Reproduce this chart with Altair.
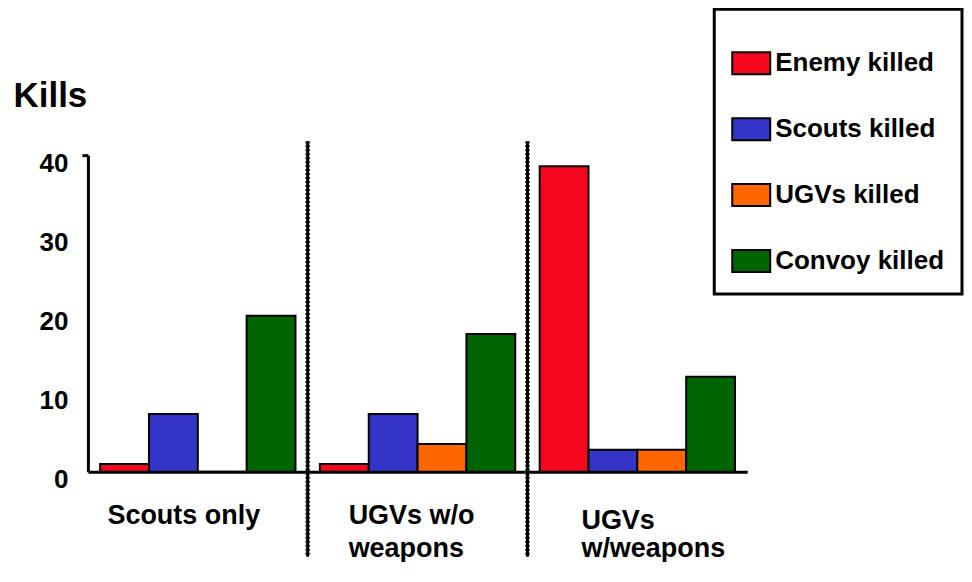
import altair as alt
import pandas as pd

groups = ["Scouts only", "UGVs w/o weapons", "UGVs w/weapons"]
group_labels = ["Scouts only", "UGVs w/o|weapons", "UGVs|w/weapons"]
series = ["Enemy killed", "Scouts killed", "UGVs killed", "Convoy killed"]
enemy = [1.0, 1.0, 38.6]
scouts = [7.3, 7.3, 2.8]
ugvs = [0.0, 3.5, 2.8]
convoy = [19.7, 17.4, 12.0]
colors = ["#F5081E", "#3434C8", "#FF6600", "#006400"]
y_ticks = [0, 10, 20, 30, 40]

rows = []
for i, g in enumerate(groups):
    for s, vals in zip(series, [enemy, scouts, ugvs, convoy]):
        rows.append({"group": g, "series": s, "kills": vals[i]})
df = pd.DataFrame(rows)
lab_df = pd.DataFrame({"group": groups, "label": group_labels})
div_df = pd.DataFrame({"group": groups[1:]})

FONT = "Liberation Sans"


def make_x(**kw):
    return alt.X(
        "group:N", sort=groups,
        scale=alt.Scale(domain=groups, paddingInner=0, paddingOuter=0),
        axis=alt.Axis(labels=False, ticks=False, title=None,
                      domainColor="black", domainWidth=3),
        **kw,
    )


bars = alt.Chart(df).mark_bar(stroke="black", strokeWidth=2).encode(
    x=make_x(),
    xOffset=alt.XOffset("series:N", sort=series,
                        scale=alt.Scale(domain=series, paddingInner=0, paddingOuter=0.25)),
    y=alt.Y("kills:Q", scale=alt.Scale(domain=[0, 40]),
            axis=alt.Axis(values=y_ticks, title="Kills", titleAngle=0,
                          titleAlign="left", titleBaseline="alphabetic",
                          titleX=-75, titleY=-49, titleFontSize=35,
                          titleFontWeight="bold", titleColor="black", titleFont=FONT,
                          labelFontSize=26, labelFontWeight="bold", labelFont=FONT,
                          labelColor="black", labelPadding=14, labelOffset=8,
                          tickSize=6, tickWidth=3,
                          tickColor={"condition": {"test": "datum.value == 40", "value": "black"},
                                     "value": "transparent"},
                          domainColor="black", domainWidth=3, grid=False)),
    color=alt.Color("series:N", sort=series,
                    scale=alt.Scale(domain=series, range=colors),
                    legend=alt.Legend(title=" ", orient="none", legendX=627, legendY=-146,
                                      direction="vertical",
                                      symbolType="M-1,-0.58H1V0.58H-1Z", symbolSize=1444,
                                      symbolStrokeColor="black", symbolStrokeWidth=2,
                                      symbolOpacity=1,
                                      labelFontSize=26, labelFontWeight="bold", labelFont=FONT,
                                      labelColor="black", labelOffset=4, labelLimit=400,
                                      rowPadding=30, padding=17, strokeColor="black",
                                      titleFontSize=14, titlePadding=3)),
)

dividers_bg = alt.Chart(div_df).mark_rule(color="#555555", strokeWidth=5, strokeDash=[2, 2]).encode(
    x=make_x(bandPosition=0), y=alt.value(-14), y2=alt.value(402)
)
dividers = alt.Chart(div_df).mark_rule(color="black", strokeWidth=3).encode(
    x=make_x(bandPosition=0), y=alt.value(-14), y2=alt.value(402)
)


def label_layer(i, align, dx, y, lh):
    return alt.Chart(lab_df).transform_filter(alt.datum.group == groups[i]).mark_text(
        align=align, baseline="alphabetic", dx=dx, lineBreak="|", lineHeight=lh,
        fontSize=27, fontWeight="bold", font=FONT, color="black",
    ).encode(x=make_x(), y=alt.value(y), text="label:N")


labels = [
    label_layer(0, "center", -14, 369, 30),
    label_layer(1, "left", -69, 369, 33),
    label_layer(2, "left", -56, 374, 28),
]

chart = alt.layer(dividers_bg, dividers, bars, *labels).properties(
    width=660, height=317,
    padding={"left": 5, "top": -1, "right": 0, "bottom": 0},
).configure(
    font=FONT,
    view=alt.ViewConfig(stroke=None),
    legend=alt.LegendConfig(strokeWidth=3),
)

chart.save("out.html", embed_options={"renderer": "svg", "actions": False})
